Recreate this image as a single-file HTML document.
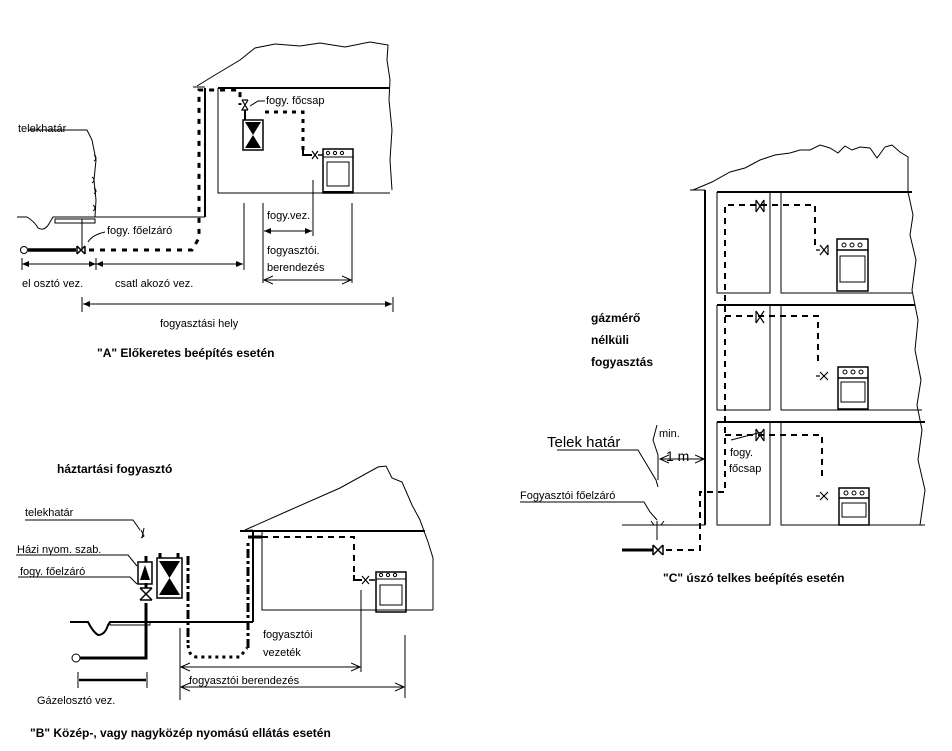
<!DOCTYPE html>
<html><head><meta charset="utf-8"><style>
html,body{margin:0;padding:0;background:#fff}
svg{display:block}
text{font-family:"Liberation Sans",sans-serif;fill:#000}
.t{font-size:11px}
.b{font-size:12px;font-weight:bold}
</style></head><body>
<svg width="952" height="751" viewBox="0 0 952 751" xmlns="http://www.w3.org/2000/svg" fill="none" stroke="#000">
<defs>
<marker id="a" markerWidth="8" markerHeight="8" refX="7" refY="4" orient="auto-start-reverse" markerUnits="userSpaceOnUse"><path d="M0,1 L7,4 L0,7" fill="#000" stroke="none"/></marker>
<marker id="o" markerWidth="10" markerHeight="10" refX="9" refY="5" orient="auto-start-reverse" markerUnits="userSpaceOnUse"><path d="M0,1 L9,5 L0,9" stroke="#000" fill="none" stroke-width="1"/></marker>
</defs>

<!-- ===== A ===== -->
<g stroke-width="1">
<path d="M193,87 L205,87 M197,86 L215,75 L240,60 L255,48 L275,44 L300,46 L320,43 L345,47 L370,42 L388,45 L387,60 L390,80 L389,100 L392,130 L390,160 L392,190"/>
<path d="M218,88 V193 H390" />
<path d="M218,88 H390" stroke-width="2"/>
<path d="M205,88 V217" stroke-width="2"/>
<path d="M17,217 H27 Q35,222 38,228 Q45,232 50,222 L53,217 H205"/>
<rect x="55" y="219" width="40" height="4"/>
<path d="M82,219 V250"/>
<!-- fence -->
<path d="M28,130 H87 L92,140 L96,160 L94,180 L96,200 L95,217"/>
<path d="M94,155 q4,3 0,6 M92,177 q4,3 0,6 M94,188 q4,3 0,6 M93,205 q4,3 0,6"/>
</g>
<!-- pipes A -->
<circle cx="24" cy="250" r="3.5" stroke-width="1"/>
<path d="M28,250 H76" stroke-width="3.5"/>
<path d="M77,246 L85,254 M77,254 L85,246 M77,246 V254 M85,246 V254" stroke-width="1.5"/>
<path d="M89,250 H192 L199,238 V90 H240 V105" stroke-width="3" stroke-dasharray="5,6"/>
<path d="M242,100 L248,110 M248,100 L242,110 L248,110 M242,100 H248" stroke-width="1.2"/>
<path d="M245,112 H245 M265,112 H303 V152" stroke-width="3" stroke-dasharray="4,5"/>
<path d="M245,110 V120" stroke-width="2"/>
<path d="M303,149 V155 H312" stroke-width="2"/>
<path d="M312,151 L318,159 M312,159 L318,151" stroke-width="1.2"/>
<path d="M318,155 H323" stroke-width="1.5"/>
<rect x="243" y="120" width="20" height="30" stroke-width="1.5"/>
<path d="M245,122 H261 L245,148 H261 Z" fill="#000" stroke="none"/>
<rect x="323" y="149" width="30" height="44" stroke-width="1.5"/>
<path d="M323,157 H353" stroke-width="1"/>
<rect x="327" y="162" width="22" height="24" stroke-width="1"/>
<circle cx="328" cy="153" r="1.6" stroke-width="1"/><circle cx="335" cy="153" r="1.6" stroke-width="1"/><circle cx="342" cy="153" r="1.6" stroke-width="1"/>
<path d="M323,192 H353" stroke-width="2"/>
<!-- dims A -->
<g stroke-width="1">
<path d="M22,258 V270 M96,258 V270 M244,203 V270 M263,203 V283 M352,203 V283 M313,180 V236 M82,297 V312 M393,297 V312"/>
<path d="M22,264 H96" marker-start="url(#a)" marker-end="url(#a)"/>
<path d="M96,264 H243" marker-start="url(#a)" marker-end="url(#a)"/>
<path d="M264,231 H312" marker-start="url(#a)" marker-end="url(#a)"/>
<path d="M264,280 H351" marker-start="url(#o)" marker-end="url(#o)"/>
<path d="M83,304 H392" marker-start="url(#a)" marker-end="url(#a)"/>
<path d="M250,106 L258,101 H265 M88,242 Q92,235 105,232"/>
</g>
<g stroke="none">
<text class="t" x="18" y="132">telekhatár</text>
<text class="t" x="266" y="104">fogy. főcsap</text>
<text class="t" x="107" y="234">fogy. főelzáró</text>
<text class="t" x="22" y="287" font-size="10">el osztó vez.</text>
<text class="t" x="115" y="287" font-size="10">csatl akozó vez.</text>
<text class="t" x="267" y="219" font-size="9">fogy.vez.</text>
<text class="t" x="267" y="254">fogyasztói.</text>
<text class="t" x="267" y="271">berendezés</text>
<text class="t" x="160" y="327">fogyasztási hely</text>
<text class="b" x="97" y="357">"A" Előkeretes beépítés esetén</text>
</g>

<!-- ===== B ===== -->
<g stroke-width="1">
<path d="M240,531 L253,530 M245,530 L290,510 L340,488 L378,467 L386,466 L392,478 L402,482 L412,505 L420,520 L428,542 L433,558 V610"/>
<path d="M262,531 V610 H433"/>
<path d="M240,531 H425" stroke-width="2"/>
<path d="M253,531 V622" stroke-width="2"/>
<path d="M70,622 H88 Q93,632 98,635 Q105,635 108,625 L110,622 H253" stroke-width="2"/>
<rect x="110" y="622" width="40" height="3"/>
<path d="M25,520 H133 L140,530 M16,555 H128 L137,566 M18,577 H130 L137,584"/>
<path d="M141,530 l3,6 l-3,2 M144,528 l-2,10"/>
</g>
<circle cx="76" cy="658" r="4" stroke-width="1"/>
<path d="M80,658 H146 V603" stroke-width="3"/>
<path d="M140,588 L152,600 M140,600 L152,588 M140,588 H152 M140,600 H152" stroke-width="1.5"/>
<path d="M146,588 V583 M146,562 V556" stroke-width="3"/>
<rect x="138" y="562" width="14" height="22" stroke-width="1.5"/>
<path d="M145,565 L150,580 H140 Z" fill="#000" stroke="none"/>
<rect x="157" y="558" width="25" height="40" stroke-width="1.5"/>
<path d="M159,561 H180 L159,595 H180 Z" fill="#000" stroke="none"/>
<path d="M160,558 V553 M178,558 V553" stroke-width="3"/>
<path d="M188,556 V645" stroke-width="3" stroke-dasharray="9,3,3,3"/>
<path d="M188,645 Q189,657 197,657 H240 L247,648" stroke-width="3" stroke-dasharray="3,4"/>
<path d="M248,648 V540" stroke-width="3" stroke-dasharray="9,3,3,3"/>
<path d="M248,537 H262" stroke-width="3"/>
<path d="M262,537 H354 V578" stroke-width="2" stroke-dasharray="6,5"/>
<path d="M354,575 V580 H362" stroke-width="2"/>
<path d="M362,576 L369,584 M362,584 L369,576" stroke-width="1.2"/>
<path d="M369,580 H375" stroke-width="1.5"/>
<rect x="376" y="572" width="30" height="40" stroke-width="1.5"/>
<path d="M376,579 H406"/>
<rect x="380" y="585" width="22" height="20"/>
<circle cx="381" cy="575" r="1.6"/><circle cx="388" cy="575" r="1.6"/><circle cx="395" cy="575" r="1.6"/>
<g stroke-width="1">
<path d="M180,628 V700 M361,590 V672 M405,635 V698 M78,672 V688 M147,672 V688"/>
<path d="M181,667 H360" marker-start="url(#o)" marker-end="url(#o)"/>
<path d="M181,687 H404" marker-start="url(#o)" marker-end="url(#o)"/>
<path d="M79,680 H146" stroke-width="2.5"/>
</g>
<g stroke="none">
<text class="b" x="57" y="473">háztartási fogyasztó</text>
<text class="t" x="25" y="516">telekhatár</text>
<text class="t" x="17" y="553" font-size="10">Házi nyom. szab.</text>
<text class="t" x="20" y="575">fogy. főelzáró</text>
<text class="t" x="263" y="638">fogyasztói</text>
<text class="t" x="263" y="656">vezeték</text>
<text class="t" x="189" y="684">fogyasztói berendezés</text>
<text class="t" x="37" y="704">Gázelosztó vez.</text>
<text class="b" x="30" y="737">"B" Közép-, vagy nagyközép nyomású ellátás esetén</text>
</g>

<!-- ===== C ===== -->
<g stroke-width="1">
<path d="M690,190 L705,190 M693,190 L712,182 L730,172 L745,168 L760,160 L775,155 L790,153 L800,150 L810,150 L820,145 L830,148 L838,153 L845,146 L852,150 L860,147 L870,148 L877,158 L885,147 L892,145 L900,152 L908,157 V192"/>
<path d="M717,192 V293 H770 V192 M781,192 V293 H912 M717,305 V410 H770 V305 M781,305 V410 H922 M717,422 V525 H770 V422 M781,422 V525 H925"/>
<path d="M908,192 L913,215 L910,235 L916,260 L912,290 L918,320 L915,350 L921,380 L917,405 L922,430 L918,460 L925,490 L920,525"/>
<path d="M705,190 V525" stroke-width="2"/>
<path d="M717,192 H912 M717,305 H915 M717,422 H925" stroke-width="2"/>
<path d="M622,525 H705"/>
<path d="M657,521 V540 M651,521 l3,4 h7 l3,-4"/>
<path d="M657,425 L653,440 L658,455 V480 M557,450 H638 L644,460 L656,480 L658,487 M520,502 H644 L650,512 L657,520"/>
<path d="M660,459 H704" marker-start="url(#o)" marker-end="url(#o)"/>
<path d="M731,440 L762,432"/>
</g>
<path d="M622,550 H653" stroke-width="3"/>
<path d="M653,545 L663,555 M653,555 L663,545 M653,545 V555 M663,545 V555" stroke-width="1.5"/>
<path d="M666,550 H700 V492 H725 V205 H815 V246" stroke-width="2" stroke-dasharray="6,5"/>
<path d="M725,316 H818 V365 M725,435 H822 V480" stroke-width="2" stroke-dasharray="6,5"/>
<g stroke-width="1.2">
<path d="M756,200 L764,212 M756,212 L764,200 M756,200 V212 M764,200 V212"/>
<path d="M756,311 L764,323 M756,323 L764,311 M756,311 V323"/>
<path d="M756,429 L764,441 M756,441 L764,429 M756,429 V441 M764,429 V441"/>
<path d="M820,245 L828,255 M820,255 L828,245 M828,245 V255 M816,250 H820"/>
<path d="M820,372 L828,380 M820,380 L828,372 M816,376 H820"/>
<path d="M820,492 L828,500 M820,500 L828,492 M816,496 H820"/>
</g>
<g stroke-width="1.5">
<rect x="837" y="239" width="31" height="52"/><path d="M837,250 H868"/><rect x="840" y="256" width="25" height="26" stroke-width="1"/>
<rect x="838" y="367" width="30" height="42"/><path d="M838,378 H868"/><rect x="841" y="382" width="24" height="20" stroke-width="1"/>
<rect x="839" y="488" width="30" height="37"/><path d="M839,498 H869"/><rect x="842" y="503" width="24" height="14" stroke-width="1"/>
</g>
<g stroke-width="1">
<circle cx="844" cy="245" r="2"/><circle cx="852" cy="245" r="2"/><circle cx="860" cy="245" r="2"/>
<circle cx="845" cy="372" r="2"/><circle cx="853" cy="372" r="2"/><circle cx="861" cy="372" r="2"/>
<circle cx="846" cy="493" r="2"/><circle cx="854" cy="493" r="2"/><circle cx="862" cy="493" r="2"/>
</g>
<g stroke="none">
<text class="b" x="591" y="322">gázmérő</text>
<text class="b" x="591" y="344">nélküli</text>
<text class="b" x="591" y="366">fogyasztás</text>
<text class="t" x="659" y="437" font-size="10">min.</text>
<text x="547" y="447" font-size="15" style="font-family:'Liberation Sans',sans-serif">Telek határ</text>
<text x="666" y="461" font-size="14" style="font-family:'Liberation Sans',sans-serif">1 m</text>
<text class="t" x="520" y="499">Fogyasztói főelzáró</text>
<text class="t" x="730" y="456">fogy.</text>
<text class="t" x="729" y="472">főcsap</text>
<text class="b" x="663" y="582">"C" úszó telkes beépítés esetén</text>
</g>
</svg>
</body></html>
